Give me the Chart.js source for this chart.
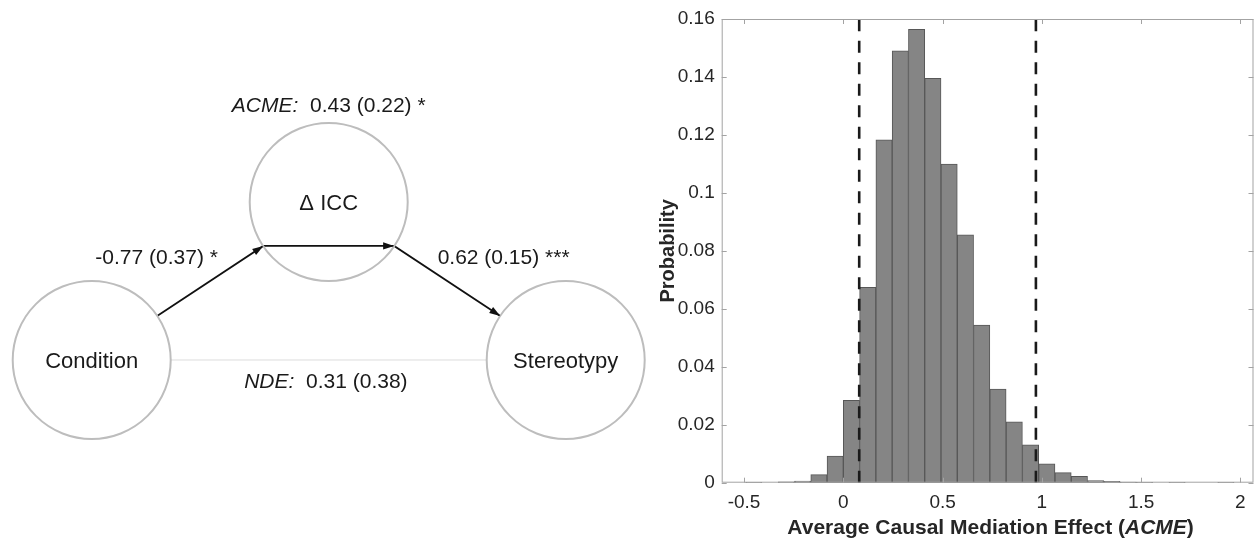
<!DOCTYPE html>
<html>
<head>
<meta charset="utf-8">
<script src="https://cdn.jsdelivr.net/npm/chart.js@4.4.0/dist/chart.umd.min.js"></script>
<style>
  html, body { margin: 0; padding: 0; background: #fff; }
  #wrap { position: relative; width: 1255px; height: 538px; overflow: hidden; }
  #diagBox { position: absolute; left: 0; top: 0; width: 650px; height: 538px; }
  #histBox { position: absolute; left: 640px; top: 0; width: 615px; height: 538px; }
</style>
</head>
<body>
<div id="wrap">
  <div id="diagBox"><canvas id="diagram"></canvas></div>
  <div id="histBox"><canvas id="histogram"></canvas></div>
</div>
<script>
const FONT = '"Liberation Sans", Arial, sans-serif';

// histogram of bootstrapped ACME
const binWidth = 0.082;
const binStart = [-0.492, -0.410, -0.328, -0.246, -0.164, -0.082, 0, 0.082, 0.164, 0.246,
                  0.328, 0.410, 0.492, 0.574, 0.656, 0.738, 0.820, 0.902, 0.984, 1.066,
                  1.148, 1.230, 1.312, 1.394, 1.476, 1.558, 1.640, 1.722, 1.804, 1.886];
const probability = [0.0001, 0, 0.0003, 0.0006, 0.0028, 0.0092, 0.0284, 0.0674, 0.1183, 0.1490,
                     0.1564, 0.1395, 0.1099, 0.0855, 0.0544, 0.0323, 0.0210, 0.0131, 0.0065, 0.0035,
                     0.0022, 0.0007, 0.0005, 0.0002, 0.0001, 0, 0.0001, 0, 0, 0.0001];
const ciBounds = [0.08, 0.97];
const xTicks = [-0.5, 0, 0.5, 1, 1.5, 2];
const xTickLabels = ['-0.5', '0', '0.5', '1', '1.5', '2'];
const yTicks = [0, 0.02, 0.04, 0.06, 0.08, 0.1, 0.12, 0.14, 0.16];
const yTickLabels = ['0', '0.02', '0.04', '0.06', '0.08', '0.1', '0.12', '0.14', '0.16'];

// mediation diagram, in diagram units (1 unit = one circle diameter)
const nodeNames = ['Condition', '\u0394 ICC', 'Stereotypy'];
const nodeX = [0, 1.5, 3];
const nodeY = [0, 1, 0];
const nodeR = 0.5;
const pathX = [0.414, 1.086, 1.914, 2.586];   // Condition -> ICC -> Stereotypy
const pathY = [0.278, 0.722, 0.722, 0.278];
const directX = [0.5, 2.5];                   // Condition -> Stereotypy (direct)
const directY = [0, 0];
const effectItalic = ['ACME:', '', '', 'NDE:'];
const effectText = ['  0.43 (0.22) *', '-0.77 (0.37) *', '0.62 (0.15) ***', '  0.31 (0.38)'];
const effectX = [1.5, 0.411, 2.607, 1.482];
const effectY = [1.605, 0.644, 0.644, -0.141];

// ---------- diagram ----------
const diagramDeco = {
  id: 'diagramDeco',
  afterDatasetsDraw(chart) {
    const { ctx, scales: { x, y } } = chart;
    ctx.save();
    // arrow heads at the end of each path segment
    ctx.fillStyle = '#111';
    for (let i = 1; i < pathX.length; i++) {
      const x0 = x.getPixelForValue(pathX[i - 1]), y0 = y.getPixelForValue(pathY[i - 1]);
      const x1 = x.getPixelForValue(pathX[i]), y1 = y.getPixelForValue(pathY[i]);
      const a = Math.atan2(y1 - y0, x1 - x0);
      ctx.save();
      ctx.translate(x1, y1);
      ctx.rotate(a);
      ctx.beginPath();
      ctx.moveTo(0, 0);
      ctx.lineTo(-11, -3.6);
      ctx.lineTo(-11, 3.6);
      ctx.closePath();
      ctx.fill();
      ctx.restore();
    }
    // node names
    ctx.fillStyle = '#1a1a1a';
    ctx.textBaseline = 'middle';
    ctx.textAlign = 'center';
    ctx.font = '22px ' + FONT;
    nodeNames.forEach((n, i) => {
      ctx.fillText(n, x.getPixelForValue(nodeX[i]), y.getPixelForValue(nodeY[i]) + 2);
    });
    // effect labels (italic prefix + plain text)
    ctx.textAlign = 'left';
    effectText.forEach((t, i) => {
      ctx.font = 'italic 21px ' + FONT;
      const wI = ctx.measureText(effectItalic[i]).width;
      ctx.font = '21px ' + FONT;
      const wT = ctx.measureText(t).width;
      let px = x.getPixelForValue(effectX[i]) - (wI + wT) / 2;
      const py = y.getPixelForValue(effectY[i]);
      if (effectItalic[i]) {
        ctx.font = 'italic 21px ' + FONT;
        ctx.fillText(effectItalic[i], px, py);
        px += wI;
      }
      ctx.font = '21px ' + FONT;
      ctx.fillText(t, px, py);
    });
    ctx.restore();
  }
};

new Chart(document.getElementById('diagram'), {
  type: 'scatter',
  data: {
    datasets: [
      {
        data: nodeX.map((v, i) => ({ x: v, y: nodeY[i] })),
        pointRadius: c => nodeR * (c.chart.scales.x.getPixelForValue(1) - c.chart.scales.x.getPixelForValue(0)),
        pointBackgroundColor: 'rgba(255,255,255,0)',
        pointBorderColor: '#bdbdbd',
        pointBorderWidth: 2,
        clip: false
      },
      {
        data: pathX.map((v, i) => ({ x: v, y: pathY[i] })),
        showLine: true,
        borderColor: '#111',
        borderWidth: 1.8,
        pointRadius: 0,
        clip: false
      },
      {
        data: directX.map((v, i) => ({ x: v, y: directY[i] })),
        showLine: true,
        borderColor: '#dcdcdc',
        borderWidth: 1,
        pointRadius: 0,
        clip: false
      }
    ]
  },
  options: {
    responsive: true,
    maintainAspectRatio: false,
    animation: false,
    events: [],
    layout: { padding: 0 },
    plugins: { legend: { display: false }, tooltip: { enabled: false } },
    scales: {
      x: { type: 'linear', display: false, min: -0.5804, max: 3.5335 },
      y: { type: 'linear', display: false, min: -1.1266, max: 2.2785 }
    }
  },
  plugins: [diagramDeco]
});

// ---------- histogram ----------
const histFrame = {
  id: 'histFrame',
  afterDatasetsDraw(chart) {
    const { ctx, chartArea: a, scales: { x, y } } = chart;
    ctx.save();
    // CI bounds
    ctx.strokeStyle = '#1a1a1a';
    ctx.lineWidth = 2.6;
    ctx.setLineDash([12, 9.5]);
    ciBounds.forEach(v => {
      const px = x.getPixelForValue(v);
      ctx.beginPath();
      ctx.moveTo(px, a.bottom);
      ctx.lineTo(px, a.top);
      ctx.stroke();
    });
    ctx.setLineDash([]);
    // box with inward ticks
    ctx.strokeStyle = '#a3a3a3';
    ctx.lineWidth = 1;
    ctx.strokeRect(a.left + 0.5, a.top + 0.5, a.right - a.left - 1, a.bottom - a.top - 1);
    ctx.beginPath();
    xTicks.forEach(v => {
      const px = Math.round(x.getPixelForValue(v)) + 0.5;
      ctx.moveTo(px, a.bottom); ctx.lineTo(px, a.bottom - 5);
      ctx.moveTo(px, a.top); ctx.lineTo(px, a.top + 5);
    });
    yTicks.forEach(v => {
      const py = Math.round(y.getPixelForValue(v)) + 0.5;
      ctx.moveTo(a.left, py); ctx.lineTo(a.left + 5, py);
      ctx.moveTo(a.right, py); ctx.lineTo(a.right - 5, py);
    });
    ctx.stroke();
    // axis titles
    ctx.fillStyle = '#262626';
    ctx.textBaseline = 'alphabetic';
    ctx.save();
    ctx.translate(33.5, (a.top + a.bottom) / 2);
    ctx.rotate(-Math.PI / 2);
    ctx.textAlign = 'center';
    ctx.font = 'bold 20px ' + FONT;
    ctx.fillText('Probability', 0, 0);
    ctx.restore();
    const parts = [['Average Causal Mediation Effect (', 'bold 21px '], ['ACME', 'italic bold 21px '], [')', 'bold 21px ']];
    let total = 0;
    parts.forEach(p => { ctx.font = p[1] + FONT; total += ctx.measureText(p[0]).width; });
    let px = (a.left + a.right) / 2 + 3 - total / 2;
    ctx.textAlign = 'left';
    parts.forEach(p => {
      ctx.font = p[1] + FONT;
      ctx.fillText(p[0], px, 534);
      px += ctx.measureText(p[0]).width;
    });
    ctx.restore();
  }
};

new Chart(document.getElementById('histogram'), {
  type: 'bar',
  data: {
    datasets: [{
      data: binStart.map((s, i) => ({ x: s + binWidth / 2, y: probability[i] })),
      backgroundColor: '#858585',
      borderColor: '#575757',
      borderWidth: 1,
      borderSkipped: false,
      barPercentage: 1,
      categoryPercentage: 1,
      grouped: false
    }]
  },
  options: {
    responsive: true,
    maintainAspectRatio: false,
    animation: false,
    events: [],
    layout: { padding: { top: 19, right: 1.5, left: 0, bottom: 0 } },
    plugins: { legend: { display: false }, tooltip: { enabled: false } },
    scales: {
      x: {
        type: 'linear',
        min: -0.6126,
        max: 2.066,
        offset: false,
        grid: { display: false, drawTicks: false },
        border: { display: false },
        afterBuildTicks: s => { s.ticks = xTicks.map(v => ({ value: v })); },
        afterFit: s => { s.height = 55.3; },
        ticks: {
          autoSkip: false, maxRotation: 0, padding: 9, color: '#262626',
          font: { family: FONT, size: 19 },
          callback: (v, i) => xTickLabels[i]
        }
      },
      y: {
        type: 'linear',
        min: 0,
        max: 0.16,
        grid: { display: false, drawTicks: false },
        border: { display: false },
        afterBuildTicks: s => { s.ticks = yTicks.map(v => ({ value: v })); },
        afterFit: s => { s.width = 81.7; },
        ticks: {
          padding: 7, color: '#262626',
          font: { family: FONT, size: 19 },
          callback: (v, i) => yTickLabels[i]
        }
      }
    }
  },
  plugins: [histFrame]
});
</script>
</body>
</html>
